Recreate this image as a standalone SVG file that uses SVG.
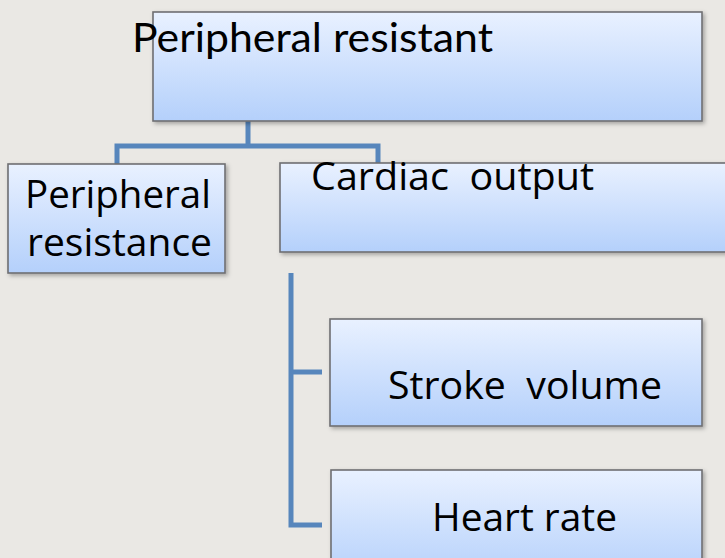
<svg xmlns="http://www.w3.org/2000/svg" width="725" height="558" viewBox="0 0 725 558">
<defs>
<linearGradient id="g" x1="0" y1="0" x2="0" y2="1">
<stop offset="0" stop-color="#E9F1FF"/>
<stop offset="1" stop-color="#B4D0FB"/>
</linearGradient>
<filter id="sh" x="-5%" y="-5%" width="112%" height="120%">
<feDropShadow dx="2" dy="2" stdDeviation="2" flood-color="#000" flood-opacity="0.3"/>
</filter>
<style>
.box{fill:url(#g);stroke:#6F6F72;stroke-width:1.6;filter:url(#sh)}
.t{font-family:"Open Sans","Noto Sans",sans-serif;font-size:38px;fill:#000;white-space:pre}
.title{font-family:Lato,"Open Sans",sans-serif;font-size:40px;fill:#000}
.c{fill:none;stroke:#5786BC;stroke-width:5}
</style>
</defs>
<rect width="725" height="558" fill="#EAE8E4"/>
<g id="connectors">
<path class="c" d="M248 121 V146 M117 146 H378 M117 143.5 V165 M378 143.5 V164"/>
<path class="c" d="M291 273 V525 H322 M291 372 H322"/>
</g>
<g id="n-top">
<rect class="box" x="153" y="12" width="549" height="109"/>
<text class="title" x="132" y="52" textLength="361" lengthAdjust="spacingAndGlyphs">Peripheral resistant</text>
</g>
<g id="n-peripheral">
<rect class="box" x="8" y="164" width="217" height="109"/>
<text class="t" x="25" y="208" textLength="186" lengthAdjust="spacingAndGlyphs">Peripheral</text>
<text class="t" x="27" y="256" textLength="185" lengthAdjust="spacingAndGlyphs">resistance</text>
</g>
<g id="n-cardiac">
<rect class="box" x="280" y="163" width="460" height="89"/>
<text class="t" x="311" y="190" textLength="283" lengthAdjust="spacingAndGlyphs">Cardiac  output</text>
</g>
<g id="n-stroke">
<rect class="box" x="330" y="319" width="372" height="107"/>
<text class="t" x="388" y="399" textLength="274" lengthAdjust="spacingAndGlyphs">Stroke  volume</text>
</g>
<g id="n-heart">
<rect class="box" x="331" y="470" width="371" height="110"/>
<text class="t" x="432" y="531" textLength="185" lengthAdjust="spacingAndGlyphs">Heart rate</text>
</g>
</svg>
